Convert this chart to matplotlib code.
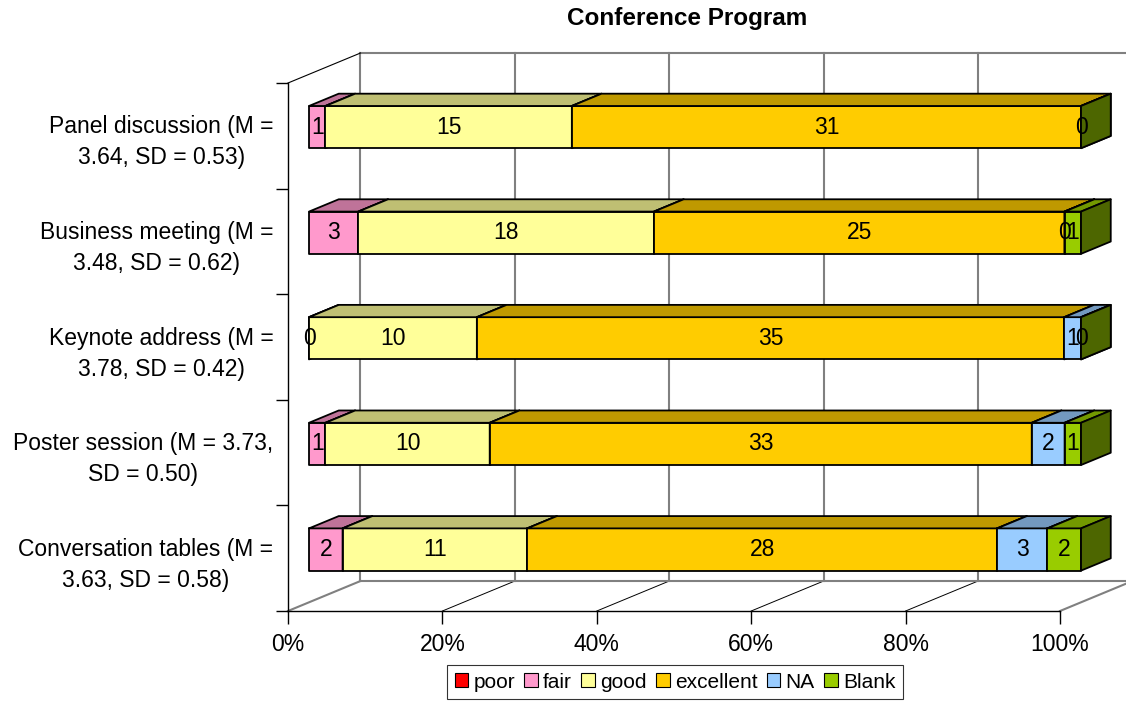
import numpy as np
import matplotlib.pyplot as plt
from matplotlib.patches import Polygon, Patch
from matplotlib.colors import to_rgb

plt.rcParams['font.family'] = ['Liberation Sans', 'DejaVu Sans']

# categories, bottom to top
questions = ['Conversation tables (M =\n3.63, SD = 0.58)',
             'Poster session (M = 3.73,\nSD = 0.50)',
             'Keynote address (M =\n3.78, SD = 0.42)',
             'Business meeting (M =\n3.48, SD = 0.62)',
             'Panel discussion (M =\n3.64, SD = 0.53)']

series_names = ['poor', 'fair', 'good', 'excellent', 'NA', 'Blank']
nan = np.nan
poor = [nan, nan, nan, nan, nan]
fair = [2, 1, 0, 3, 1]
good = [11, 10, 10, 18, 15]
excellent = [28, 33, 35, 25, 31]
na = [3, 2, 1, 0, nan]
blank = [2, 1, 0, 1, 0]
colors = ['#FF0000', '#FF99CC', '#FFFF99', '#FFCC00', '#99CCFF', '#99CC00']

counts = np.array([poor, fair, good, excellent, na, blank], dtype=float)
pct = counts / np.nansum(counts, axis=0) * 100

fig = plt.figure(figsize=(11.26, 7.03), dpi=100)
ax = fig.add_axes([288 / 1126, 92 / 703, 772 / 1126, 528 / 703])
n = len(questions)
ax.set_xlim(0, 100)
ax.set_ylim(0, n)
ax.patch.set_visible(False)

# oblique offset of the back wall (data units)
DX, DY = 9.39, 0.284
# depth range of the bars and their front height
d0, d1 = 0.29, 0.70
bar_h = 0.40


def shade(c, f):
    return tuple(v * f for v in to_rgb(c))


z = [2]


def face(pts, color):
    z[0] += 0.001
    ax.add_patch(Polygon(pts, closed=True, facecolor=color, edgecolor='black',
                         lw=1.3, joinstyle='round', clip_on=False, zorder=z[0]))


# walls and floor
grid = dict(color='#808080', lw=1.5, clip_on=False, zorder=1)
for x in range(0, 101, 20):
    if x in (0, 100):
        ax.plot([x, x + DX], [0, DY], **grid)
    else:
        ax.plot([x, x + DX], [0, DY], color='black', lw=0.7, clip_on=False, zorder=1)
    ax.plot([x + DX, x + DX], [DY, n + DY], **grid)
ax.plot([DX, 100 + DX], [DY, DY], **grid)
ax.plot([DX, 100 + DX], [n + DY, n + DY], **grid)
ax.plot([0, DX], [n, n + DY], color='black', lw=0.8, clip_on=False, zorder=1)

# stacked 3D bars
ox, oy = d0 * DX, d0 * DY
tx, ty = (d1 - d0) * DX, (d1 - d0) * DY
for i in range(n):
    left = 0.0
    y0 = i + 0.5 - bar_h / 2 + oy
    y1 = y0 + bar_h
    for k in range(len(series_names)):
        v = pct[k, i]
        if np.isnan(v):
            continue
        x0 = left + ox
        x1 = left + v + ox
        face([(x0, y0), (x1, y0), (x1, y1), (x0, y1)], colors[k])
        face([(x0, y1), (x1, y1), (x1 + tx, y1 + ty), (x0 + tx, y1 + ty)], shade(colors[k], 0.75))
        face([(x1, y0), (x1, y1), (x1 + tx, y1 + ty), (x1 + tx, y0 + ty)], shade(colors[k], 0.5))
        ax.text((x0 + x1) / 2, (y0 + y1) / 2, f'{int(counts[k, i])}',
                ha='center', va='center', fontsize=16.5, zorder=10)
        left += v

# axes and ticks
for s in ['top', 'right']:
    ax.spines[s].set_visible(False)
for s in ['left', 'bottom']:
    ax.spines[s].set_linewidth(1.0)
    ax.spines[s].set_zorder(1.5)
ax.set_xticks(range(0, 101, 20))
ax.set_xticklabels([f'{x}%' for x in range(0, 101, 20)])
ax.tick_params(axis='x', length=9, width=1, pad=7, labelsize=16.5)
ax.set_yticks(range(n + 1))
ax.set_yticklabels([])
ax.set_yticks(np.arange(n) + 0.5, minor=True)
ax.set_yticklabels(questions, minor=True, multialignment='center', linespacing=1.45)
ax.tick_params(axis='y', which='major', length=9, width=1)
ax.tick_params(axis='y', which='minor', length=0, pad=10.5, labelsize=16.5)

fig.text(687 / 1126, 1 - 19 / 703, 'Conference Program', fontsize=17.5,
         fontweight='bold', ha='center', va='center')

handles = [Patch(facecolor=c, edgecolor='black', lw=0.8) for c in colors]
leg = fig.legend(handles, series_names, loc='center', bbox_to_anchor=(675 / 1126, 21 / 703),
                 ncol=6, frameon=True, fancybox=False, edgecolor='black', fontsize=15,
                 handlelength=0.65, handleheight=0.65, handletextpad=0.25,
                 columnspacing=0.45, borderpad=0.35)
leg.get_frame().set_linewidth(0.8)

fig.savefig('out.png', dpi=100)
